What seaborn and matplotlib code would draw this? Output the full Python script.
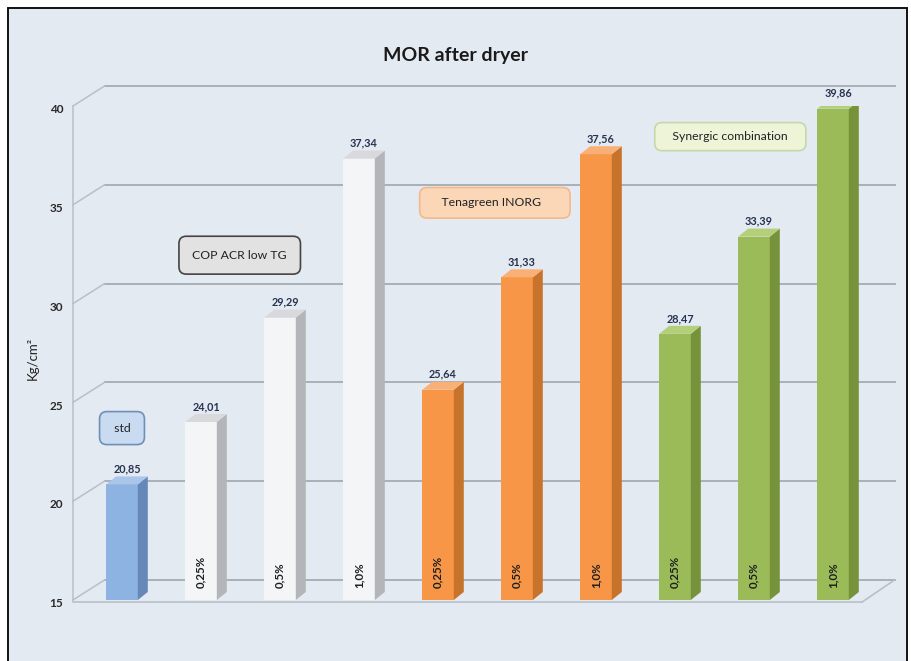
import matplotlib
matplotlib.use("Agg")
import matplotlib.pyplot as plt
import matplotlib.transforms as mtransforms
from matplotlib.patches import Polygon, Rectangle
import seaborn as sns
import pandas as pd

# ---- data ----
categories = ["std", "COP 0,25%", "COP 0,5%", "COP 1,0%",
              "TEN 0,25%", "TEN 0,5%", "TEN 1,0%",
              "SYN 0,25%", "SYN 0,5%", "SYN 1,0%"]
values = [20.85, 24.01, 29.29, 37.34, 25.64, 31.33, 37.56, 28.47, 33.39, 39.86]
groups = ["std", "COP ACR low TG", "COP ACR low TG", "COP ACR low TG",
          "Tenagreen INORG", "Tenagreen INORG", "Tenagreen INORG",
          "Synergic combination", "Synergic combination", "Synergic combination"]
dose_labels = ["", "0,25%", "0,5%", "1,0%", "0,25%", "0,5%", "1,0%",
               "0,25%", "0,5%", "1,0%"]
value_labels = ["20,85", "24,01", "29,29", "37,34", "25,64", "31,33",
                "37,56", "28,47", "33,39", "39,86"]
yticks = [15, 20, 25, 30, 35, 40]

front_colors = {"std": "#8db3e2", "COP ACR low TG": "#f4f5f7",
                "Tenagreen INORG": "#f79646", "Synergic combination": "#9bbb59"}
side_colors = {"std": "#6688b8", "COP ACR low TG": "#b3b5b8",
               "Tenagreen INORG": "#c8732c", "Synergic combination": "#76933c"}
top_colors = {"std": "#a9c6ea", "COP ACR low TG": "#d8d9db",
              "Tenagreen INORG": "#f9b077", "Synergic combination": "#b3cf7a"}

df = pd.DataFrame({"cat": categories, "val": values, "grp": groups})

W, H, DPI = 911, 661, 100
fig = plt.figure(figsize=(W / DPI, H / DPI), dpi=DPI, facecolor="white")
bg = "#e4eaf2"
fig.patches.append(Rectangle((8 / W, -0.02), 899 / W, 1.02 - 8 / H,
                             transform=fig.transFigure, facecolor=bg,
                             edgecolor="#111111", lw=1.4, zorder=-10))

left, right = 82.5, 872.5
top_px, bot_px = 106, 600
ax = fig.add_axes([left / W, 1 - bot_px / H, (right - left) / W, (bot_px - top_px) / H])
ax.set_facecolor("none")

sns.barplot(data=df, x="cat", y="val", hue="grp", palette=front_colors,
            dodge=False, width=0.4, legend=False, ax=ax, zorder=3,
            saturation=1, edgecolor="none", linewidth=0)
ax.set_xlim(-0.5, 9.5)
ax.set_ylim(15, 40)

px_x = (right - left) / 10.0          # pixels per x unit
px_y = (bot_px - top_px) / 25.0       # pixels per y unit
dx, dy = 10 / px_x, 8 / px_y          # bar depth
gx, gy = 22 / px_x, 20 / px_y         # back wall offset
xw = -0.5 - 9.5 / px_x                # front wall x

grid_c = "#a3abb5"
wall_c = "#b8bfc8"
for v in yticks:
    ax.plot([-0.5 + gx, 9.5 + gx], [v + gy, v + gy], color=grid_c, lw=1.3,
            zorder=1, clip_on=False)
    ax.plot([xw, -0.5 + gx], [v, v + gy], color=wall_c, lw=1.1,
            zorder=1, clip_on=False)
ax.plot([xw, xw], [15, 40], color=wall_c, lw=1.1, zorder=1, clip_on=False)
# floor
ax.plot([xw, 9.5 - 0.13], [14.9, 14.9], color=wall_c, lw=1.2, zorder=2, clip_on=False)
ax.plot([9.5 - 0.13, 9.5 + gx], [14.9, 15 + gy], color=wall_c, lw=1.2, zorder=2, clip_on=False)

# 3D faces derived from each bar
for i, p in enumerate(ax.patches[:len(values)]):
    x0 = p.get_x()
    w = p.get_width()
    h = p.get_height()
    xc = x0 + w / 2
    g = groups[i]
    side = Polygon([(x0 + w, 15), (x0 + w + dx, 15 + dy), (x0 + w + dx, h + dy), (x0 + w, h)],
                   closed=True, facecolor=side_colors[g], edgecolor="none", zorder=3)
    topf = Polygon([(x0, h), (x0 + dx, h + dy), (x0 + w + dx, h + dy), (x0 + w, h)],
                   closed=True, facecolor=top_colors[g], edgecolor="none", zorder=3)
    ax.add_patch(side)
    ax.add_patch(topf)
    ax.text(xc + dx / 2, h + dy + 0.1, value_labels[i], ha="center", va="bottom",
            fontsize=7.8, fontweight="bold", color="#26324f", family="Lato",
            zorder=5, clip_on=False)
    if dose_labels[i]:
        ax.text(xc, 15.6, dose_labels[i], rotation=90, ha="center", va="bottom",
                fontsize=8.3, fontweight="bold", color="#1e1e1e", family="Lato", zorder=5)

# group annotation boxes
box_specs = [
    (" std ", 0.0, 23.7, "#c9dbf1", "#6f8fb8", 0.9),
    ("COP ACR low TG", 1.49, 32.45, "#e2e2e2", "#444444", 1.1),
    ("    Tenagreen INORG      ", 4.72, 35.1, "#fbd7b8", "#f2b98c", 0.8),
    ("   Synergic combination   ", 7.70, 38.45, "#eef4d8", "#c9d6a8", 0.7),
]
for txt, bx, by, fc, ec, pad in box_specs:
    ax.text(bx, by, txt, ha="center", va="center", fontsize=8.8, color="#222222",
            family="Lato", zorder=6,
            bbox=dict(boxstyle=f"round,pad={pad},rounding_size=0.6", facecolor=fc,
                      edgecolor=ec, lw=1.2))

ax.set_xticks([])
ax.set_xlabel("")
ax.set_yticks(yticks)
ax.set_yticklabels([str(t) for t in yticks], fontsize=8.5, fontweight="bold",
                   family="Lato", color="#2a2a2a")
ax.tick_params(axis="y", length=0, pad=14)
off = mtransforms.ScaledTranslation(0, -2 / 72, fig.dpi_scale_trans)
for lbl in ax.get_yticklabels():
    lbl.set_transform(lbl.get_transform() + off)
for s in ax.spines.values():
    s.set_visible(False)
ax.set_ylabel("Kg/cm²", fontsize=9.5, family="Lato", color="#222222")
ax.yaxis.set_label_coords(-0.056, 0.49)

fig.text(0.5, 1 - 55 / H, "MOR after dryer", ha="center", va="center",
         fontsize=14, fontweight="bold", family="Lato", color="#1a1a1a")

fig.savefig("out.png", dpi=DPI, facecolor="white")
